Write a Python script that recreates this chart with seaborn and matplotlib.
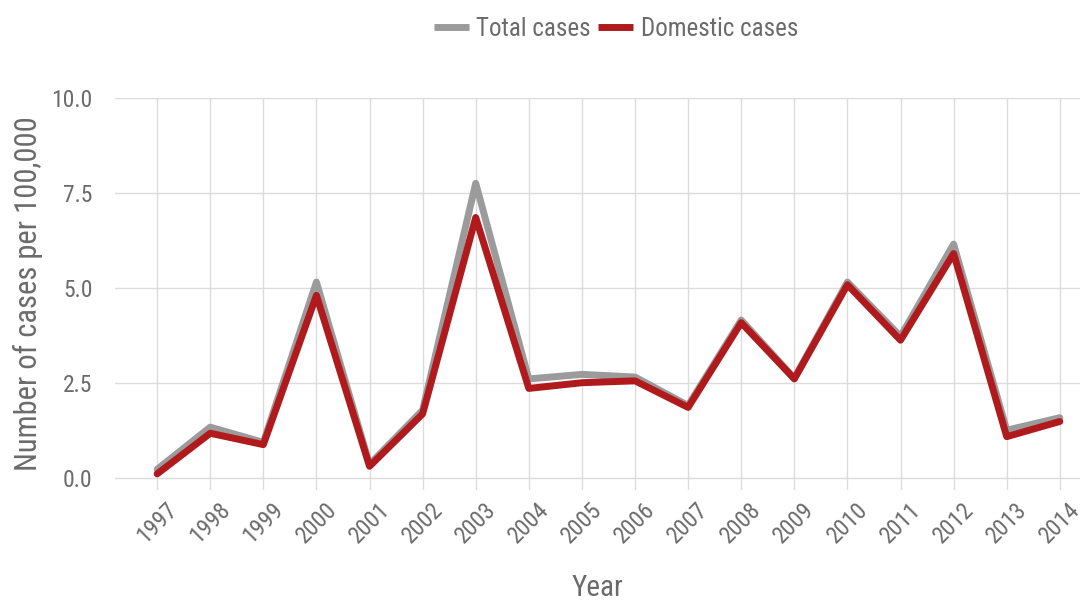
import seaborn as sns
import matplotlib.pyplot as plt
import pandas as pd

# data
years = list(range(1997, 2015))
total_cases = [0.22, 1.33, 0.93, 5.15, 0.35, 1.78, 7.75, 2.6, 2.72, 2.65, 1.9, 4.15, 2.62, 5.15, 3.72, 6.15, 1.25, 1.58]
domestic_cases = [0.1, 1.17, 0.87, 4.8, 0.3, 1.68, 6.85, 2.35, 2.5, 2.55, 1.85, 4.08, 2.6, 5.08, 3.62, 5.9, 1.08, 1.48]
series_names = ["Total cases", "Domestic cases"]

df = pd.DataFrame({
    "Year": years * 2,
    "value": total_cases + domestic_cases,
    "series": [series_names[0]] * len(years) + [series_names[1]] * len(years),
})

sns.set_theme(style="whitegrid")
plt.rcParams["font.family"] = ["Roboto Condensed", "DejaVu Sans"]
txt = "#6b6b6b"

fig = plt.figure(figsize=(10.92, 6.04), dpi=100)
ax = fig.add_axes([0.105, 0.189, 0.884, 0.649])

sns.lineplot(data=df, x="Year", y="value", hue="series", hue_order=series_names,
             palette=["#9b9b9b", "#b11a1d"], linewidth=5, ax=ax)

ax.set_xlim(1996.2, 2014.38)
ax.set_ylim(-0.32, 10.0)
ax.set_xticks(years)
ax.set_xticklabels([str(y) for y in years], rotation=45, ha="center")
ax.set_yticks([0, 2.5, 5, 7.5, 10])
ax.set_yticklabels(["0.0", "2.5", "5.0", "7.5", "10.0"])
ax.tick_params(axis="both", labelsize=17, labelcolor=txt, length=0)
ax.tick_params(axis="y", pad=16)
ax.tick_params(axis="x", pad=6)
ax.grid(True, color="#dcdcdc", linewidth=1)
for s in ax.spines.values():
    s.set_visible(False)

ax.set_xlabel("Year", fontsize=21, color=txt, labelpad=19)
ax.set_ylabel("Number of cases per 100,000", fontsize=22, color=txt, labelpad=6)

handles, labels = ax.get_legend_handles_labels()
ax.legend_.remove()
for h in handles:
    h.set_solid_capstyle("butt")
fig.legend(handles, labels, loc="center", bbox_to_anchor=(0.564, 0.952), ncol=2,
           frameon=False, fontsize=18, labelcolor=txt, handlelength=1.4,
           handletextpad=0.3, columnspacing=0.3)

fig.savefig("out.png", dpi=100)
